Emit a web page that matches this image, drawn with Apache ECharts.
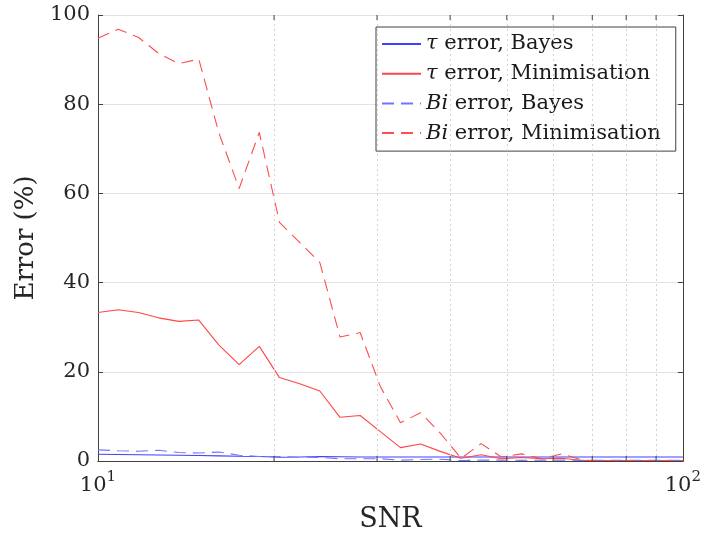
<!DOCTYPE html>
<html><head><meta charset="utf-8">
<script src="https://cdn.jsdelivr.net/npm/echarts@6/dist/echarts.min.js"></script>
<style>html,body{margin:0;padding:0;background:#fff}#c{width:704px;height:538px}</style>
</head><body><div id="c"></div>
<script>
// SNR sample positions (log-spaced between 10 and 100)
const snr = [10, 10.83, 11.72, 12.69, 13.74, 14.87, 16.10, 17.43, 18.87, 20.43,
  22.12, 23.95, 25.93, 28.07, 30.39, 32.90, 35.62, 38.57, 41.75, 45.20,
  48.94, 52.98, 57.36, 62.10, 67.23, 72.79, 78.80, 85.32, 92.37, 100];
const tauBayes = [1.5, 1.45, 1.4, 1.35, 1.3, 1.25, 1.15, 1.05, 1.0, 0.85,
  0.9, 1.0, 0.95, 0.9, 0.9, 0.9, 0.9, 0.9, 0.9, 0.9,
  0.9, 0.9, 0.9, 0.9, 0.9, 0.9, 0.9, 0.9, 0.9, 0.9];
const tauMin = [33.3, 33.9, 33.3, 32.1, 31.3, 31.6, 26.0, 21.6, 25.7, 18.7,
  17.3, 15.7, 9.8, 10.2, 6.6, 3.0, 3.8, 2.1, 0.6, 1.4,
  0.5, 0.8, 0.5, 0.6, 0.1, 0.1, 0.1, 0.1, 0.1, 0.1];
const biBayes = [2.5, 2.3, 2.2, 2.4, 1.9, 1.8, 2.0, 1.3, 1.0, 1.0,
  0.9, 0.8, 0.5, 0.5, 0.5, 0.2, 0.35, 0.4, 0.1, 0.2,
  0.2, 0.15, 0.2, 0.2, 0.15, 0.15, 0.15, 0.15, 0.15, 0.15];
const biMin = [94.8, 96.8, 95.0, 91.4, 89.1, 90.1, 73.5, 61.1, 73.7, 53.5,
  49.0, 44.5, 27.8, 28.8, 16.7, 8.6, 10.8, 6.1, 0.6, 3.9,
  0.9, 1.6, 0.5, 1.6, 0.2, 0.1, 0.1, 0.1, 0.1, 0.1];
const minorTicks = [20, 30, 40, 50, 60, 70, 80, 90];
const names = ['τ error, Bayes', 'τ error, Minimisation', 'Bi error, Bayes', 'Bi error, Minimisation'];

const FF = 'DejaVu Serif';
const AX = '#404040';
const pair = (ys) => snr.map((x, i) => [x, ys[i]]);

const chart = echarts.init(document.getElementById('c'), null, {renderer: 'canvas'});
chart.setOption({
  animation: false,
  backgroundColor: '#fff',
  grid: {left: 98, right: 19, top: 15, bottom: 75},
  legend: {
    orient: 'vertical', left: 376, top: 27,
    padding: [6.5, 15, 7.5, 5],
    itemWidth: 39, itemHeight: 14, itemGap: 8.7,
    itemStyle: {opacity: 0},
    backgroundColor: '#fff', borderColor: AX, borderWidth: 1, borderRadius: 0,
    data: names,
    formatter: n => n.replace(/^(τ|Bi)/, '{i|$1}'),
    textStyle: {fontFamily: FF, fontSize: 21, lineHeight: 21, color: '#1a1a1a',
      rich: {i: {fontFamily: FF, fontSize: 21, fontStyle: 'italic', color: '#1a1a1a'}}}
  },
  xAxis: [{
    type: 'log', logBase: 10, min: 10, max: 100,
    name: 'SNR', nameLocation: 'middle', nameGap: 45,
    nameTextStyle: {fontFamily: FF, fontSize: 27, color: '#262626'},
    axisLine: {show: true, lineStyle: {color: AX, width: 1}},
    axisTick: {show: false},
    splitLine: {show: false},
    axisLabel: {
      margin: 9, showMinLabel: true, showMaxLabel: true,
      formatter: v => '{b|10}{s|' + Math.round(Math.log10(v)) + '}',
      rich: {
        b: {fontFamily: FF, fontSize: 21, color: '#262626', lineHeight: 26, verticalAlign: 'bottom'},
        s: {fontFamily: FF, fontSize: 15, color: '#262626', lineHeight: 26, verticalAlign: 'top', padding: [0, 0, 8, 0]}
      }
    }
  }, {
    type: 'log', logBase: 10, min: 10, max: 100, position: 'top',
    axisLine: {show: true, lineStyle: {color: AX, width: 1}},
    axisTick: {show: false}, axisLabel: {show: false}, splitLine: {show: false}
  }],
  yAxis: [{
    type: 'value', min: 0, max: 100, interval: 20,
    name: 'Error (%)', nameLocation: 'middle', nameGap: 56,
    nameTextStyle: {fontFamily: FF, fontSize: 26, color: '#262626'},
    axisLine: {show: true, lineStyle: {color: AX, width: 1}},
    axisTick: {show: true, inside: true, length: 5, lineStyle: {color: AX}},
    splitLine: {show: true, lineStyle: {color: '#e3e3e3', width: 1}},
    axisLabel: {fontFamily: FF, fontSize: 21, color: '#262626', margin: 8}
  }, {
    type: 'value', min: 0, max: 100, interval: 20, position: 'right',
    axisLine: {show: true, lineStyle: {color: AX, width: 1}},
    axisTick: {show: true, inside: true, length: 5, lineStyle: {color: AX}},
    axisLabel: {show: false}, splitLine: {show: false}
  }],
  series: [
    {
      type: 'custom', name: 'minorticks', silent: true, clip: false, z: 5,
      data: minorTicks.map(v => [v, 0]),
      renderItem: (params, api) => {
        const v = api.value(0);
        const b = api.coord([v, 0]);
        const t = api.coord([v, 100]);
        return {type: 'group', children: [
          {type: 'line', shape: {x1: b[0], y1: b[1], x2: b[0], y2: b[1] - 5}, style: {stroke: AX, lineWidth: 1}},
          {type: 'line', shape: {x1: t[0], y1: t[1], x2: t[0], y2: t[1] + 5}, style: {stroke: AX, lineWidth: 1}}
        ]};
      },
      markLine: {
        silent: true, symbol: 'none', label: {show: false},
        lineStyle: {type: [2, 3], color: '#d4d4d4', width: 1},
        data: minorTicks.map(v => ({xAxis: v}))
      }
    },
    {name: names[0], type: 'line', data: pair(tauBayes), symbol: 'none', showSymbol: false,
      lineStyle: {color: '#4040ff', width: 1.1}, itemStyle: {color: '#4040ff'}, z: 3},
    {name: names[1], type: 'line', data: pair(tauMin), symbol: 'none', showSymbol: false,
      lineStyle: {color: '#ff4545', width: 1.1}, itemStyle: {color: '#ff4545'}, z: 3},
    {name: names[2], type: 'line', data: pair(biBayes), symbol: 'none', showSymbol: false,
      lineStyle: {color: '#7373ff', width: 1.1, type: [12, 7]}, itemStyle: {color: '#7373ff'}, z: 3},
    {name: names[3], type: 'line', data: pair(biMin), symbol: 'none', showSymbol: false,
      lineStyle: {color: '#ff4d4d', width: 1.1, type: [12, 7]}, itemStyle: {color: '#ff4d4d'}, z: 3}
  ]
});
</script></body></html>
